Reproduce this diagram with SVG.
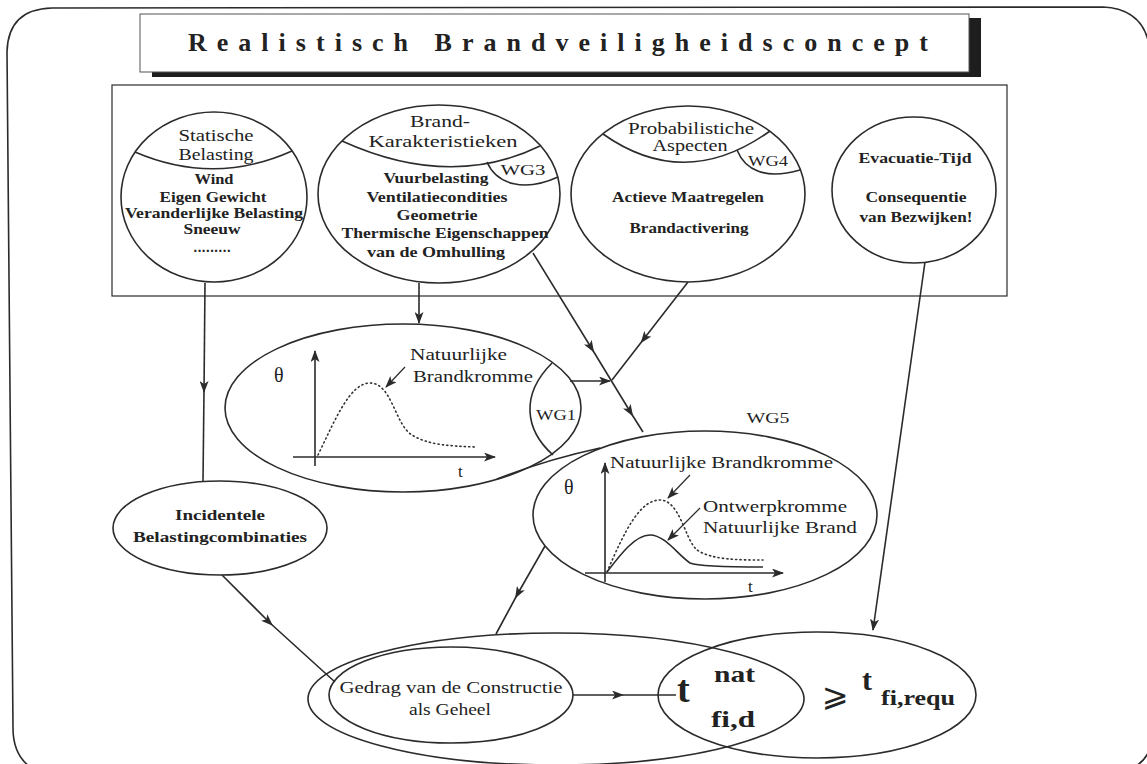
<svg xmlns="http://www.w3.org/2000/svg" width="1147" height="764" viewBox="0 0 1147 764">
<style>
.ln{fill:none;stroke:#2b2b2b;stroke-width:1.6}
.thin{fill:none;stroke:#2b2b2b;stroke-width:1.2}
.dot{fill:none;stroke:#333;stroke-width:1.6;stroke-dasharray:1.2 3.2;stroke-linecap:round}
text{font-family:"Liberation Serif","Times New Roman",serif;fill:#222}
.hd{font-size:17px;text-anchor:middle}
.bd{font-size:14.5px;font-weight:bold;text-anchor:middle}
.lb{font-size:17px}
.wg{font-size:15px;text-anchor:middle}
.ax{font-size:20px}
.big{font-weight:bold}
</style>
<defs>
<marker id="ah" viewBox="0 0 12 9" refX="11" refY="4.5" markerWidth="12" markerHeight="9" markerUnits="userSpaceOnUse" orient="auto">
<path d="M0,0 L12,4.5 L0,9 L3,4.5 z" fill="#2b2b2b"/>
</marker>
<marker id="am" viewBox="0 0 12 9" refX="8" refY="4.5" markerWidth="12" markerHeight="9" markerUnits="userSpaceOnUse" orient="auto">
<path d="M0,0 L12,4.5 L0,9 L3,4.5 z" fill="#2b2b2b"/>
</marker>
</defs>
<rect width="1147" height="764" fill="#ffffff"/>
<g id="frame">
<path class="ln" d="M35,770 Q13,758 13,728 L7,52 Q8,9 52,8 L1103,7 Q1145,9 1150,50 L1152,740 Q1149,762 1128,770"/>
</g>
<g id="title">
<rect x="152" y="18" width="829" height="59" fill="#1e1e1e"/>
<rect x="140" y="14" width="829" height="58" fill="#ffffff" stroke="#555" stroke-width="1"/>
<text x="558" y="51" font-size="26" font-weight="bold" text-anchor="middle" textLength="740" lengthAdjust="spacing">Realistisch Brandveiligheidsconcept</text>
</g>
<g id="inputs-box">
<rect class="thin" x="112" y="85" width="895" height="211"/>
</g>
<g id="statische">
<ellipse class="ln" cx="214" cy="197" rx="93" ry="85"/>
<path class="ln" d="M135,152 Q214,186 292,151"/>
<text class="hd" x="216" y="141" textLength="75" lengthAdjust="spacingAndGlyphs">Statische</text>
<text class="hd" x="216" y="160" textLength="75" lengthAdjust="spacingAndGlyphs">Belasting</text>
<text class="bd" x="214" y="184" textLength="39" lengthAdjust="spacingAndGlyphs">Wind</text>
<text class="bd" x="213" y="202" textLength="107" lengthAdjust="spacingAndGlyphs">Eigen Gewicht</text>
<text class="bd" x="214" y="218" textLength="178" lengthAdjust="spacingAndGlyphs">Veranderlijke Belasting</text>
<text class="bd" x="212" y="234" textLength="57" lengthAdjust="spacingAndGlyphs">Sneeuw</text>
<text class="bd" x="212" y="252" font-size="11" textLength="37" lengthAdjust="spacing">.........</text>
</g>
<g id="brand-karakteristieken">
<ellipse class="ln" cx="439" cy="194" rx="121" ry="89"/>
<path class="ln" d="M342,141 Q450,190 540,146"/>
<path class="ln" d="M487,162 C497,185 525,192 558,177"/>
<text class="hd" x="440" y="127" textLength="60" lengthAdjust="spacingAndGlyphs">Brand-</text>
<text class="hd" x="443" y="147" textLength="149" lengthAdjust="spacingAndGlyphs">Karakteristieken</text>
<text class="wg" x="523" y="175" textLength="45" lengthAdjust="spacingAndGlyphs">WG3</text>
<text class="bd" x="436" y="183" textLength="105" lengthAdjust="spacingAndGlyphs">Vuurbelasting</text>
<text class="bd" x="437" y="202" textLength="141" lengthAdjust="spacingAndGlyphs">Ventilatiecondities</text>
<text class="bd" x="437" y="220" textLength="81" lengthAdjust="spacingAndGlyphs">Geometrie</text>
<text class="bd" x="445" y="238" textLength="207" lengthAdjust="spacingAndGlyphs">Thermische Eigenschappen</text>
<text class="bd" x="436" y="257" textLength="138" lengthAdjust="spacingAndGlyphs">van de Omhulling</text>
</g>
<g id="probabilistiche">
<ellipse class="ln" cx="688" cy="194" rx="117" ry="88"/>
<path class="ln" d="M603,134 Q685,192 770,131"/>
<path class="ln" d="M737,150 C745,170 765,180 800,170"/>
<text class="hd" x="691" y="134" textLength="126" lengthAdjust="spacingAndGlyphs">Probabilistiche</text>
<text class="hd" x="690" y="151" textLength="75" lengthAdjust="spacingAndGlyphs">Aspecten</text>
<text class="wg" x="768" y="166" textLength="40" lengthAdjust="spacingAndGlyphs">WG4</text>
<text class="bd" x="688" y="202" textLength="152" lengthAdjust="spacingAndGlyphs">Actieve Maatregelen</text>
<text class="bd" x="689" y="233" textLength="119" lengthAdjust="spacingAndGlyphs">Brandactivering</text>
</g>
<g id="evacuatie">
<ellipse class="ln" cx="914" cy="190" rx="82" ry="73"/>
<text class="bd" x="915" y="163" textLength="113" lengthAdjust="spacingAndGlyphs">Evacuatie-Tijd</text>
<text class="bd" x="916" y="202" textLength="101" lengthAdjust="spacingAndGlyphs">Consequentie</text>
<text class="bd" x="916" y="222" textLength="113" lengthAdjust="spacingAndGlyphs">van Bezwijken!</text>
</g>
<g id="natuurlijke-brandkromme">
<ellipse class="ln" cx="403" cy="408" rx="178" ry="84"/>
<path class="ln" d="M552,363 C520,395 525,430 553,455"/>
<line class="ln" x1="315" y1="466" x2="315" y2="351" marker-end="url(#ah)"/>
<line class="ln" x1="293" y1="457" x2="495" y2="457" marker-end="url(#ah)"/>
<path class="dot" d="M318,455 C335,420 350,383 370,383 C392,383 395,425 412,435 C428,445 450,446 475,447"/>
<text class="ax" x="274" y="382">θ</text>
<text class="lb" x="410" y="360" textLength="97" lengthAdjust="spacingAndGlyphs">Natuurlijke</text>
<text class="lb" x="413" y="382" textLength="120" lengthAdjust="spacingAndGlyphs">Brandkromme</text>
<line class="thin" x1="405" y1="367" x2="386" y2="387" marker-end="url(#ah)"/>
<text class="wg" x="556" y="420" textLength="40" lengthAdjust="spacingAndGlyphs">WG1</text>
<text class="lb" x="458" y="477">t</text>
</g>
<g id="ontwerpkromme">
<ellipse class="ln" cx="705" cy="515" rx="172" ry="84"/>
<path class="ln" d="M497,479 Q545,460 600,448"/>
<text class="wg" x="768" y="423" textLength="43" lengthAdjust="spacingAndGlyphs">WG5</text>
<line class="ln" x1="605" y1="582" x2="605" y2="463" marker-end="url(#ah)"/>
<line class="ln" x1="585" y1="573" x2="783" y2="573" marker-end="url(#ah)"/>
<path class="dot" d="M607,572 C625,530 640,500 660,500 C680,500 685,540 697,550 C712,560 740,560 763,560"/>
<path class="ln" d="M607,572 C620,555 635,535 650,535 C665,535 678,555 690,563 C700,567 740,567 763,567"/>
<text class="ax" x="564" y="494">θ</text>
<text class="lb" x="610" y="468" textLength="223" lengthAdjust="spacingAndGlyphs">Natuurlijke Brandkromme</text>
<line class="thin" x1="690" y1="475" x2="668" y2="498" marker-end="url(#ah)"/>
<text class="lb" x="703" y="512" textLength="144" lengthAdjust="spacingAndGlyphs">Ontwerpkromme</text>
<text class="lb" x="703" y="533" textLength="154" lengthAdjust="spacingAndGlyphs">Natuurlijke Brand</text>
<line class="thin" x1="700" y1="508" x2="668" y2="540" marker-end="url(#ah)"/>
<text class="lb" x="748" y="592">t</text>
</g>
<g id="incidentele">
<ellipse class="ln" cx="220" cy="528" rx="107" ry="47"/>
<text class="bd" x="220" y="520" font-size="16" textLength="90" lengthAdjust="spacingAndGlyphs">Incidentele</text>
<text class="bd" x="220" y="542" font-size="16" textLength="174" lengthAdjust="spacingAndGlyphs">Belastingcombinaties</text>
</g>
<g id="constructie">
<ellipse class="ln" cx="556" cy="699" rx="248" ry="66"/>
<ellipse class="ln" cx="451" cy="695" rx="122" ry="48"/>
<text class="lb" x="451" y="693" text-anchor="middle" textLength="223" lengthAdjust="spacingAndGlyphs">Gedrag van de Constructie</text>
<text class="lb" x="450" y="715" text-anchor="middle" textLength="82" lengthAdjust="spacingAndGlyphs">als Geheel</text>
</g>
<g id="eis">
<ellipse class="ln" cx="817" cy="695" rx="159" ry="63"/>
<text class="big" x="677" y="702" font-size="38">t</text>
<text class="big" x="714" y="682" font-size="24" textLength="41" lengthAdjust="spacingAndGlyphs">nat</text>
<text class="big" x="711" y="727" font-size="24" textLength="44" lengthAdjust="spacingAndGlyphs">fi,d</text>
<text x="822" y="706" font-size="32" style="font-family:'DejaVu Sans',sans-serif">⩾</text>
<text class="big" x="862" y="690" font-size="30">t</text>
<text class="big" x="881" y="705" font-size="22" textLength="74" lengthAdjust="spacingAndGlyphs">fi,requ</text>
</g>
<g id="connectors">
<line class="ln" x1="205" y1="283" x2="204" y2="392" marker-end="url(#ah)"/>
<line class="ln" x1="204" y1="390" x2="203" y2="482"/>
<line class="ln" x1="419" y1="283" x2="419" y2="323" marker-end="url(#ah)"/>
<polyline class="ln" points="533,253 592,349 631,413 643,432" marker-mid="url(#am)"/>
<polyline class="ln" points="688,282 643,340 612,380" marker-mid="url(#am)"/>
<line class="ln" x1="570" y1="381" x2="610" y2="381" marker-end="url(#ah)"/>
<line class="ln" x1="925" y1="262" x2="873" y2="630" marker-end="url(#ah)"/>
<polyline class="ln" points="222,575 270,623 335,682" marker-mid="url(#am)"/>
<polyline class="ln" points="545,546 517,595 496,634" marker-mid="url(#am)"/>
<polyline class="ln" points="573,695 620,695 676,695" marker-mid="url(#am)"/>
</g>
</svg>
